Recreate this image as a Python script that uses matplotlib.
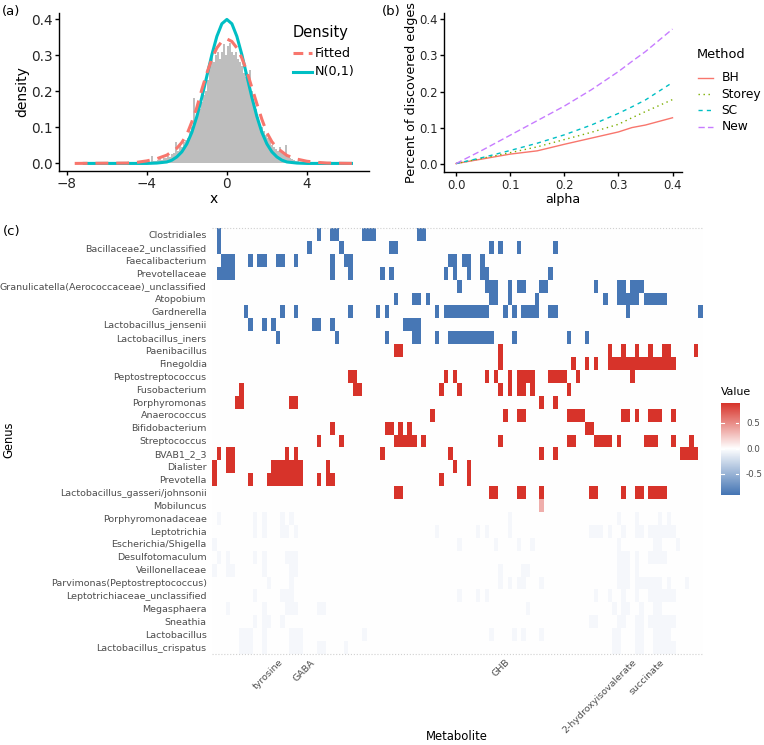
import matplotlib
matplotlib.use("Agg")
import matplotlib.pyplot as plt
import numpy as np
from matplotlib.colors import LinearSegmentedColormap, Normalize

# ---------------- (a) histogram + densities ----------------
hist_start = -4.0
hist_bin = 0.1
hist_heights = [
    0.003, 0.005, 0.020, 0.006, 0.008, 0.010, 0.012, 0.009, 0.014, 0.016,
    0.020, 0.018, 0.025, 0.030, 0.058, 0.035, 0.050, 0.045, 0.060, 0.065,
    0.070, 0.090, 0.100, 0.180, 0.120, 0.140, 0.150, 0.170, 0.190, 0.200,
    0.230, 0.270, 0.310, 0.280, 0.300, 0.310, 0.290, 0.310, 0.330, 0.300,
    0.325, 0.335, 0.310, 0.300, 0.310, 0.290, 0.280, 0.270, 0.250, 0.240,
    0.220, 0.260, 0.200, 0.160, 0.150, 0.130, 0.110, 0.100, 0.090, 0.080,
    0.070, 0.065, 0.050, 0.045, 0.040, 0.035, 0.045, 0.030, 0.028, 0.050,
    0.020, 0.015, 0.012, 0.010, 0.008, 0.006, 0.005, 0.004, 0.003, 0.002,
]

fit_x = [-7.6, -5.0, -4.5, -4.0, -3.5, -3.0, -2.5, -2.25, -2.0, -1.75, -1.5, -1.25,
         -1.0, -0.75, -0.5, -0.25, 0.0, 0.25, 0.5, 0.75, 1.0, 1.25, 1.5, 1.75,
         2.0, 2.25, 2.5, 3.0, 3.5, 4.0, 4.5, 5.0, 6.3]
fit_y = [0.0, 0.001, 0.003, 0.007, 0.013, 0.023, 0.042, 0.058, 0.080, 0.115, 0.155, 0.205,
         0.250, 0.290, 0.320, 0.338, 0.345, 0.338, 0.320, 0.292, 0.255, 0.210, 0.165, 0.122,
         0.085, 0.060, 0.043, 0.022, 0.012, 0.006, 0.003, 0.001, 0.0]

norm_x = [-7.2, -4.0, -3.5, -3.0, -2.75, -2.5, -2.25, -2.0, -1.75, -1.5, -1.25, -1.0,
          -0.75, -0.5, -0.25, 0.0, 0.25, 0.5, 0.75, 1.0, 1.25, 1.5, 1.75, 2.0,
          2.25, 2.5, 2.75, 3.0, 3.5, 4.0, 6.3]
norm_y = [0.0, 0.0, 0.001, 0.004, 0.009, 0.018, 0.032, 0.054, 0.086, 0.130, 0.183, 0.242,
          0.301, 0.352, 0.387, 0.399, 0.387, 0.352, 0.301, 0.242, 0.183, 0.130, 0.086, 0.054,
          0.032, 0.018, 0.009, 0.004, 0.001, 0.0, 0.0]

# ---------------- (b) discovered edges ----------------
alpha = [0.0, 0.05, 0.1, 0.15, 0.2, 0.25, 0.3, 0.325, 0.35, 0.4]
bh = [0.002, 0.015, 0.028, 0.037, 0.055, 0.072, 0.089, 0.101, 0.108, 0.128]
storey = [0.002, 0.017, 0.032, 0.048, 0.068, 0.088, 0.110, 0.128, 0.145, 0.178]
sc = [0.002, 0.019, 0.038, 0.058, 0.081, 0.108, 0.140, 0.158, 0.177, 0.225]
new = [0.002, 0.040, 0.080, 0.120, 0.160, 0.205, 0.255, 0.283, 0.310, 0.372]

# ---------------- (c) heatmap ----------------
genera = ["Clostridiales", "Bacillaceae2_unclassified", "Faecalibacterium", "Prevotellaceae",
          "Granulicatella(Aerococcaceae)_unclassified", "Atopobium", "Gardnerella",
          "Lactobacillus_jensenii", "Lactobacillus_iners", "Paenibacillus", "Finegoldia",
          "Peptostreptococcus", "Fusobacterium", "Porphyromonas", "Anaerococcus",
          "Bifidobacterium", "Streptococcus", "BVAB1_2_3", "Dialister", "Prevotella",
          "Lactobacillus_gasseri/johnsonii", "Mobiluncus", "Porphyromonadaceae",
          "Leptotrichia", "Escherichia/Shigella", "Desulfotomaculum", "Veillonellaceae",
          "Parvimonas(Peptostreptococcus)", "Leptotrichiaceae_unclassified", "Megasphaera",
          "Sneathia", "Lactobacillus", "Lactobacillus_crispatus"]
n_metab = 108
metab_ticks = [14, 21, 64, 92, 98]
metab_names = ["tyrosine", "GABA", "GHB", "2-hydroxyisovalerate", "succinate"]

neg_cells = {
    "Clostridiales": "1 23 26-27 33-35 45-46",
    "Bacillaceae2_unclassified": "1 21 28 39-40 61 63 67 75",
    "Faecalibacterium": "2-4 8 10-11 14-15 18 26 29-30 52-53 55-56 59",
    "Prevotellaceae": "1-4 26 30 37 39 51 53 56 59-60 74",
    "Granulicatella(Aerococcaceae)_unclassified": "54 60-62 65 67-68 72-73 84 89-90 92-94",
    "Atopobium": "40 44-45 47 61-62 65 71 86 89-93 95-99",
    "Gardnerella": "7 15 18 30 36 38 49 51-60 64 66 68-71 74-75 91 107",
    "Lactobacillus_jensenii": "8 11 13 22-23 26 42-45",
    "Lactobacillus_iners": "14 27 38 44-45 49 52-61 66 78 82",
}
pos_cells = {
    "Paenibacillus": "40-41 63 87 90 93 96 99-100 106",
    "Finegoldia": "63 79 82 84 87-101",
    "Peptostreptococcus": "30-31 51 53 60 62 65 67-70 74-77 80 92",
    "Fusobacterium": "6 31-32 50 54 63 65 67-68 70 78",
    "Porphyromonas": "5-6 17-18 72 75",
    "Anaerococcus": "48 64 67-68 78-81 90-91 93 96-98 101",
    "Bifidobacterium": "26 38-39 41 43 82-83",
    "Streptococcus": "23 28 40-44 46 63 78-79 84-87 89 95-97 101 105",
    "BVAB1_2_3": "1 3-4 16 18 37 52 72 75 103-106",
    "Dialister": "0 3-4 13-19 25 53 56",
    "Prevotella": "0 8 12-19 23 25-26 50 56",
    "Lactobacillus_gasseri/johnsonii": "40-41 61-62 67-68 72 83-84 90 93-94 96-99",
}
weak_pos_cells = {"Mobiluncus": "72"}
faint_cells = {
    "Porphyromonadaceae": "1 9 11 15 17 65 89 93 98 100",
    "Leptotrichia": "9 11 15-16 18 49 58 60 65 83-85 87 90 93-94 96-101",
    "Escherichia/Shigella": "0 54 62 67 70 89 97-98 102",
    "Desulfotomaculum": "1 3 9 11 16-18 89-91 93 96-99",
    "Veillonellaceae": "0 3-4 11 17-18 63 68-69 89-91 93",
    "Parvimonas(Peptostreptococcus)": "12 17 63 65 67-68 72 89-91 93-98 100 104",
    "Leptotrichiaceae_unclassified": "9 15-17 54 58 60 84 87 90 93 96-101",
    "Megasphaera": "3 11 16-18 23-24 69 88 90-91 94 97-98",
    "Sneathia": "9 11-12 15 83-84 89-90 93-94 96-101",
    "Lactobacillus": "6-8 11 17-19 33 61 66 68 72 88-89 93-94 97-100",
    "Lactobacillus_crispatus": "6-8 11 17-19 23-24 29 88-89 93-94 97-101",
}
strong_value = 0.88
weak_value = 0.35
faint_value = -0.045


def cols(spec):
    out = []
    for tok in spec.split():
        if "-" in tok:
            a, b = tok.split("-")
            out.extend(range(int(a), int(b) + 1))
        else:
            out.append(int(tok))
    return out


mat = np.zeros((len(genera), n_metab))
for table, val in [(neg_cells, -strong_value), (pos_cells, strong_value),
                   (weak_pos_cells, weak_value), (faint_cells, faint_value)]:
    for g, spec in table.items():
        mat[genera.index(g), cols(spec)] = val

W, H = 764, 745
fig = plt.figure(figsize=(W / 100, H / 100), dpi=100)


def px_axes(l, t, r, b, **kw):
    return fig.add_axes([l / W, 1 - b / H, (r - l) / W, (b - t) / H], **kw)


tick_col = "#262626"
dash_storey = (1, 2.6)
dash_sc = (3, 3)
dash_new = (4.5, 2.3)

# ---- panel a
ax = px_axes(59.3, 13.3, 369, 171)
edges = hist_start + hist_bin * np.arange(len(hist_heights) + 1)
ax.stairs(hist_heights, edges, fill=True, color="#bebebe", linewidth=0)
ax.plot(norm_x, norm_y, color="#00BFC4", lw=2.2, solid_capstyle="butt")
ax.plot(fit_x, fit_y, color="#F8766D", lw=2.2, dashes=(4.2, 2.6))
ax.set_xlim(-8.37, 7.1)
ax.set_ylim(-0.021, 0.416)
ax.set_xticks([-8, -4, 0, 4])
ax.set_yticks([0, 0.1, 0.2, 0.3, 0.4])
ax.set_yticklabels(["0.0", "0.1", "0.2", "0.3", "0.4"])
for s in ["top", "right"]:
    ax.spines[s].set_visible(False)
for s in ["left", "bottom"]:
    ax.spines[s].set_linewidth(1.0)
ax.tick_params(labelsize=9.8, labelcolor=tick_col, length=3, width=1.0, pad=1.5)

# ---- panel b
bx = px_axes(444.3, 12.7, 681.7, 172.3)
bx.plot(alpha, bh, color="#F8766D", lw=1.0)
bx.plot(alpha, storey, color="#7CAE00", lw=1.0, dashes=dash_storey)
bx.plot(alpha, sc, color="#00BFC4", lw=1.0, dashes=dash_sc)
bx.plot(alpha, new, color="#C77CFF", lw=1.0, dashes=dash_new)
bx.set_xlim(-0.0217, 0.417)
bx.set_ylim(-0.022, 0.417)
bx.set_xticks([0, 0.1, 0.2, 0.3, 0.4])
bx.set_xticklabels(["0.0", "0.1", "0.2", "0.3", "0.4"])
bx.set_yticks([0, 0.1, 0.2, 0.3, 0.4])
bx.set_yticklabels(["0.0", "0.1", "0.2", "0.3", "0.4"])
for s in ["top", "right"]:
    bx.spines[s].set_visible(False)
for s in ["left", "bottom"]:
    bx.spines[s].set_linewidth(1.0)
bx.tick_params(labelsize=8.4, labelcolor=tick_col, length=3, width=1.0, pad=1.5)

# ---- panel c
cmap = LinearSegmentedColormap.from_list("rwb", ["#4575B4", "#FFFFFF", "#D73027"])
cnorm = Normalize(-0.9, 0.9)
cx = px_axes(212.3, 227.9, 702.6, 653.6)
cx.imshow(mat, cmap=cmap, norm=cnorm, aspect="auto", interpolation="nearest",
          extent=(-0.5, n_metab - 0.5, len(genera) - 0.5, -0.5))
cx.set_xlim(-0.5, n_metab - 0.5)
cx.set_ylim(len(genera) - 0.5, -0.5)
for yy in [-0.5, len(genera) - 0.5]:
    cx.axhline(yy, color="#d0d0d0", lw=0.8, ls=":", clip_on=False)
for s in cx.spines.values():
    s.set_visible(False)
cx.set_yticks(range(len(genera)))
cx.set_yticklabels(genera)
cx.set_xticks(metab_ticks)
cx.set_xticklabels(metab_names, rotation=45, ha="right", rotation_mode="anchor")
cx.tick_params(length=0, labelsize=6.8, labelcolor="#4d4d4d", pad=4)
cx.tick_params(axis="x", pad=3)

# colorbar
kx = px_axes(720.7, 402.7, 739.3, 495)
grad = np.linspace(0.9, -0.9, 200).reshape(-1, 1)
kx.imshow(grad, cmap=cmap, norm=cnorm, aspect="auto", extent=(0, 1, -0.9, 0.9))
kx.set_xlim(0, 1)
kx.set_ylim(-0.9, 0.9)
kx.set_xticks([])
kx.set_yticks([])
for s in kx.spines.values():
    s.set_visible(False)
for v in [-0.5, 0.0, 0.5]:
    kx.plot([0, 0.2], [v, v], color="white", lw=0.8)
    kx.plot([0.8, 1], [v, v], color="white", lw=0.8)

# ---- overlay in pixel coordinates for labels and legends
ov = fig.add_axes([0, 0, 1, 1])
ov.set_xlim(0, W)
ov.set_ylim(H, 0)
ov.axis("off")
ov.patch.set_alpha(0)

ov.text(1.7, 11, "(a)", fontsize=9.5, ha="left", va="center")
ov.text(381.7, 11, "(b)", fontsize=9.5, ha="left", va="center")
ov.text(3.3, 231.7, "(c)", fontsize=9.5, ha="left", va="center")

ov.text(22, 92, "density", fontsize=10, rotation=90, ha="center", va="center")
ov.text(214, 199, "x", fontsize=10, ha="center", va="center")
ov.text(411, 92.5, "Percent of discovered edges", fontsize=9.2, rotation=90,
        ha="center", va="center")
ov.text(563, 200, "alpha", fontsize=9.1, ha="center", va="center")
ov.text(9, 440, "Genus", fontsize=8.3, rotation=90, ha="center", va="center")
ov.text(457, 736, "Metabolite", fontsize=8.4, ha="center", va="center")

# legend a
ov.text(292.7, 32, "Density", fontsize=10.5, ha="left", va="center")
ov.plot([293.3, 311.7], [53.3, 53.3], color="#F8766D", lw=2.2, dashes=(3.2, 1.8))
ov.text(315, 53.3, "Fitted", fontsize=9.2, ha="left", va="center")
ov.plot([293.3, 311.7], [71.7, 71.7], color="#00BFC4", lw=2.2)
ov.text(315, 71.7, "N(0,1)", fontsize=9.2, ha="left", va="center")

# legend b
ov.text(696.7, 55, "Method", fontsize=9.3, ha="left", va="center")
leg_b = [("BH", "#F8766D", None), ("Storey", "#7CAE00", dash_storey),
         ("SC", "#00BFC4", dash_sc), ("New", "#C77CFF", dash_new)]
for (name, col, dash), yy in zip(leg_b, [77.7, 94.3, 110.3, 127]):
    if dash is None:
        ov.plot([698.3, 712.5], [yy, yy], color=col, lw=1.0)
    else:
        ov.plot([698.3, 712.5], [yy, yy], color=col, lw=1.0, dashes=dash)
    ov.text(721.7, yy, name, fontsize=8.8, ha="left", va="center")

# colorbar title and labels
ov.text(720.7, 391.7, "Value", fontsize=7.9, ha="left", va="center")
for v in [0.5, 0.0, -0.5]:
    ov.text(746, 449 - v * 51.4, f"{v:.1f}", fontsize=6.3, color="#4d4d4d",
            ha="left", va="center")

fig.savefig("out.png", dpi=100)
